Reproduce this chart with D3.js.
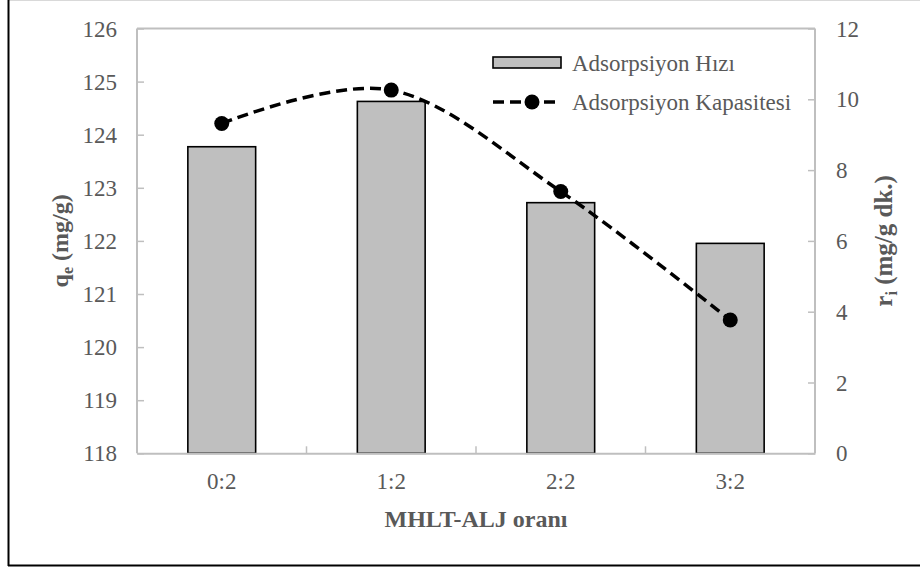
<!DOCTYPE html>
<html><head><meta charset="utf-8">
<script src="https://cdn.jsdelivr.net/npm/d3@7"></script>
<style>body{margin:0;background:#fff}svg{display:block}text{font-family:"Liberation Serif","Times New Roman",serif}</style>
</head><body>
<svg id="c" width="920" height="570" font-family="Liberation Serif, Times New Roman, serif"></svg>
<script>
const categories = ["0:2","1:2","2:2","3:2"];
const rateValues = [8.66, 9.94, 7.08, 5.93];          // Adsorpsiyon Hızı (bars, right axis r_i)
const capacityValues = [124.21, 124.84, 122.93, 120.51]; // Adsorpsiyon Kapasitesi (line, left axis q_e)
const leftTicks = [118,119,120,121,122,123,124,125,126];
const rightTicks = [0,2,4,6,8,10,12];
const seriesNames = ["Adsorpsiyon Hızı","Adsorpsiyon Kapasitesi"];

const svg = d3.select("#c");
const L = 137, R = 815, T = 28.5, B = 453.3;
const textCol = "#595959", axisCol = "#bfbfbf";

// outer frame
svg.append("line").attr("x1",8).attr("x2",920).attr("y1",0.5).attr("y2",0.5).attr("stroke","#d9d9d9").attr("stroke-width",1);
svg.append("line").attr("x1",8.5).attr("x2",8.5).attr("y1",0).attr("y2",566).attr("stroke","#000").attr("stroke-width",2);
svg.append("line").attr("x1",8).attr("x2",920).attr("y1",565.5).attr("y2",565.5).attr("stroke","#000").attr("stroke-width",2);

const x = d3.scaleBand().domain(categories).range([L,R]).paddingInner(0).paddingOuter(0);
const yL = d3.scaleLinear().domain([118,126]).range([B,T]);
const yR = d3.scaleLinear().domain([0,12]).range([B,T]);
const barW = x.bandwidth()/2.5;

// bars
svg.append("g").selectAll("rect").data(categories).join("rect")
  .attr("x", d => x(d) + x.bandwidth()/2 - barW/2)
  .attr("y", (d,i) => yR(rateValues[i]))
  .attr("width", barW)
  .attr("height", (d,i) => yR(0) - yR(rateValues[i]))
  .attr("fill","#bfbfbf").attr("stroke","#000").attr("stroke-width",1.6);

// plot frame / axes
const gL = svg.append("g").attr("transform",`translate(${L},0)`)
  .call(d3.axisRight(yL).tickValues(leftTicks).tickSize(7).tickFormat(""));
const gR = svg.append("g").attr("transform",`translate(${R},0)`)
  .call(d3.axisLeft(yR).tickValues(rightTicks).tickSize(7).tickFormat(""));
const gB = svg.append("g").attr("transform",`translate(0,${B})`)
  .call(d3.axisTop(x).tickSize(0).tickFormat(""));
[gL,gR,gB].forEach(g => {
  g.select(".domain").attr("stroke",axisCol).attr("stroke-width",2);
  g.selectAll(".tick line").attr("stroke",axisCol).attr("stroke-width",1.5);
});
gL.select(".domain").attr("d",`M0,${T}V${B}`);
gR.select(".domain").attr("d",`M0,${T}V${B}`);
svg.append("line").attr("x1",L).attr("x2",R).attr("y1",T).attr("y2",T).attr("stroke",axisCol).attr("stroke-width",2);
// category boundary ticks
svg.append("g").selectAll("line").data(categories.slice(1)).join("line")
  .attr("x1",d=>x(d)).attr("x2",d=>x(d)).attr("y1",B).attr("y2",B-7)
  .attr("stroke",axisCol).attr("stroke-width",1.5);

// tick labels
svg.append("g").selectAll("text").data(leftTicks).join("text")
  .attr("x",117).attr("y",d=>yL(d)).attr("dy","0.35em").attr("text-anchor","end")
  .attr("font-size",23).attr("fill",textCol).text(d=>d);
svg.append("g").selectAll("text").data(rightTicks).join("text")
  .attr("x",836).attr("y",d=>yR(d)).attr("dy","0.35em").attr("text-anchor","start")
  .attr("font-size",23).attr("fill",textCol).text(d=>d);
svg.append("g").selectAll("text").data(categories).join("text")
  .attr("x",d=>x(d)+x.bandwidth()/2).attr("y",489).attr("text-anchor","middle")
  .attr("font-size",23).attr("fill",textCol).text(d=>d);

// line
const pts = categories.map((c,i)=>[x(c)+x.bandwidth()/2, yL(capacityValues[i])]);
svg.append("path").attr("d", d3.line().curve(d3.curveCardinal.tension(0))(pts))
  .attr("fill","none").attr("stroke","#000").attr("stroke-width",3.5).attr("stroke-dasharray","11,6");
svg.append("g").selectAll("circle").data(pts).join("circle")
  .attr("cx",d=>d[0]).attr("cy",d=>d[1]).attr("r",7.5).attr("fill","#000");

// axis titles
const tq = svg.append("text").attr("transform",`translate(68,${(T+B)/2}) rotate(-90)`)
  .attr("text-anchor","middle").attr("font-size",24).attr("font-weight","bold").attr("fill",textCol);
tq.append("tspan").text("q");
tq.append("tspan").attr("font-size",16).attr("dy",5).text("e");
tq.append("tspan").attr("dy",-5).text(" (mg/g)");
const tr = svg.append("text").attr("transform",`translate(892,${(T+B)/2}) rotate(-90)`)
  .attr("text-anchor","middle").attr("font-size",25).attr("font-weight","bold").attr("fill",textCol);
tr.append("tspan").text("r");
tr.append("tspan").attr("font-size",16).attr("dy",5).text("i");
tr.append("tspan").attr("dy",-5).text(" (mg/g dk.)");
svg.append("text").attr("x",(L+R)/2).attr("y",527).attr("text-anchor","middle")
  .attr("font-size",24).attr("font-weight","bold").attr("fill",textCol).text("MHLT-ALJ oranı");

// legend
const lg = svg.append("g");
lg.append("rect").attr("x",493).attr("y",57).attr("width",68).attr("height",11)
  .attr("fill","#bfbfbf").attr("stroke","#000").attr("stroke-width",1.6);
lg.append("text").attr("x",572).attr("y",63).attr("dy","0.35em").attr("font-size",23).attr("fill",textCol).text(seriesNames[0]);
lg.append("line").attr("x1",493).attr("x2",561).attr("y1",102).attr("y2",102)
  .attr("stroke","#000").attr("stroke-width",3.5).attr("stroke-dasharray","11,6");
lg.append("circle").attr("cx",532).attr("cy",102).attr("r",7.5).attr("fill","#000");
lg.append("text").attr("x",572).attr("y",102).attr("dy","0.35em").attr("font-size",23).attr("fill",textCol).text(seriesNames[1]);
</script>
</body></html>
